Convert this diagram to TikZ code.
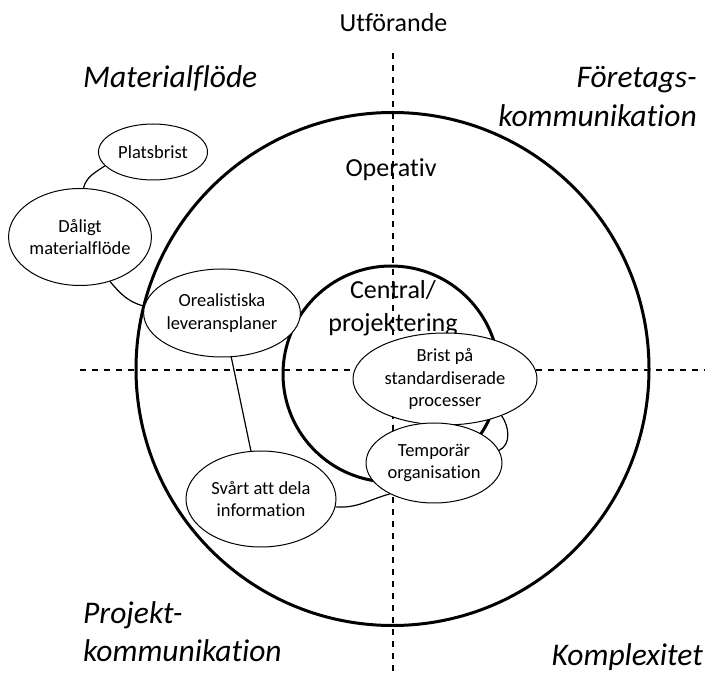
\documentclass[tikz,border=0pt]{standalone}
\usepackage{fontspec}
\setmainfont[Ligatures=NoCommon]{Carlito}
\usetikzlibrary{shapes.geometric}
\begin{document}
\begin{tikzpicture}[
    x=1pt, y=1pt,
    ring/.style={draw, line width=3pt},
    axis/.style={line width=2.5pt, dash pattern=on 6pt off 6pt},
    level/.style={inner sep=0pt, align=center, font=\fontsize{26}{33}\selectfont},
    corner/.style={inner sep=0pt, font=\fontsize{31.5}{39}\selectfont\itshape},
    problem/.style={ellipse, draw, line width=1pt, fill=white, inner sep=0pt, align=center, font=\fontsize{18.5}{22.5}\selectfont},
    link/.style={line width=1.2pt}
]
\useasboundingbox (0,0) rectangle (707,675);

% Circles
\draw[ring] (392.5,306) circle (256.5);
\draw[ring] (391,301) circle (108);

% Levels
\node[level, anchor=base] (utf) at (393.5,643) {Utförande};
\node[level, anchor=base] (oper) at (391,498) {Operativ};
\node[level, anchor=base] (central) at (393,343) {Central/\\projektering};

% Axes
\draw[axis] (80,305) -- (705,305);
\draw[axis] (393,622) -- (393,0);

% Problems
\node[problem, minimum width=109, minimum height=56] (plats) at (153,523) {Platsbrist};
\node[problem, minimum width=136, minimum height=97] (daligt) at (80,438) {Dåligt\\materialflöde};
\node[problem, minimum width=142, minimum height=88] (oreal) at (222,362) {Orealistiska\\leveransplaner};
\node[problem, minimum width=150, minimum height=96] (svart) at (261,176) {Svårt att dela\\information};
\node[problem, minimum width=184, minimum height=92] (brist) at (445,296) {Brist på\\standardiserade\\processer};
\node[problem, minimum width=136, minimum height=80] (temp) at (434,212) {Temporär\\organisation};

% Connectors
\draw[link] (plats.196) to[out=215, in=75] (daligt.86);
\draw[link] (daligt.-56) to[out=-50, in=165] (oreal.175);
\draw[link] (oreal) -- (svart);
\draw[link] (svart.-6) to[out=-5, in=195] (temp.215);
\draw[link] (brist.-33) to[out=-55, in=25] (temp.11);

% Corners
\node[corner, anchor=base west] (mat) at (83,587) {Materialflöde};
\node[corner, anchor=base east, align=right] (ftg) at (697,548) {Företags-\\kommunikation};
\node[corner, anchor=base west, align=left] (proj) at (83,13) {Projekt-\\kommunikation};
\node[corner, anchor=base east] (kompl) at (703,10) {Komplexitet};

\end{tikzpicture}
\end{document}
